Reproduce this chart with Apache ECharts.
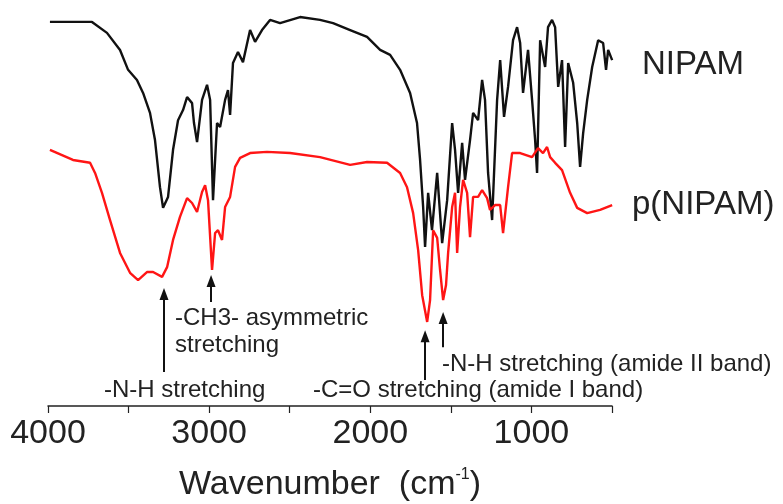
<!DOCTYPE html>
<html>
<head>
<meta charset="utf-8">
<script src="https://cdn.jsdelivr.net/npm/echarts@6/dist/echarts.min.js"></script>
<style>
  html, body { margin: 0; padding: 0; background: #fff; }
  #chart { width: 783px; height: 504px; }
</style>
</head>
<body>
<div id="chart"></div>
<script>
// FTIR spectra, transmittance in arbitrary units (curves offset)
var nipamWn = [3988, 3727, 3634, 3553, 3503, 3448, 3410, 3367, 3336, 3305, 3286, 3255, 3224, 3193, 3162, 3137, 3106, 3094, 3075, 3044,
    3013, 2994, 2976, 2951, 2932, 2901, 2883, 2870, 2852, 2821, 2790, 2746, 2715, 2672, 2622, 2560, 2436, 2312, 2231, 2125,
    2020, 1939, 1877, 1815, 1753, 1710, 1691, 1672, 1660, 1641, 1617, 1585, 1554, 1523, 1492, 1474, 1455, 1430, 1412, 1381,
    1362, 1331, 1306, 1288, 1269, 1244, 1213, 1194, 1170, 1145, 1114, 1089, 1070, 1052, 1021, 996, 977, 965, 946, 915,
    897, 872, 853, 834, 810, 791, 772, 741, 716, 698, 679, 654, 623, 586, 555, 537, 524, 499]
var nipamT = [94.6, 94.6, 91.9, 87.7, 82.8, 80.3, 77.1, 72.2, 65.5, 53.9, 48.8, 51.5, 63.1, 70.4, 72.9, 76.1, 74.6, 69.7, 65.0, 75.4,
    79.1, 75.4, 50.7, 69.7, 68.7, 75.4, 77.8, 71.7, 84.5, 87.2, 84.7, 92.6, 89.7, 92.6, 95.1, 94.3, 95.8, 95.1, 94.3, 92.6,
    90.9, 87.7, 86.5, 82.8, 77.1, 69.7, 60.6, 49.0, 39.2, 52.5, 43.3, 57.4, 40.1, 50.7, 69.7, 63.1, 52.5, 64.8, 55.7, 65.5,
    72.2, 70.4, 80.3, 75.4, 57.4, 45.8, 75.4, 85.2, 71.2, 78.6, 90.1, 93.3, 89.4, 77.1, 87.7, 75.4, 65.5, 57.4, 90.1, 83.5,
    93.3, 95.1, 93.3, 78.6, 85.2, 63.8, 84.5, 79.6, 69.7, 58.9, 67.2, 75.4, 83.5, 90.1, 89.4, 82.8, 87.7, 85.2]

var pnipamWn = [3988, 3845, 3739, 3708, 3665, 3615, 3553, 3491, 3441, 3386, 3348, 3292, 3261, 3224, 3181, 3137, 3106, 3075, 3044, 3025,
    3007, 2982, 2963, 2945, 2920, 2901, 2870, 2839, 2808, 2746, 2641, 2498, 2312, 2125, 2020, 1896, 1815, 1772, 1734, 1703,
    1678, 1647, 1629, 1610, 1585, 1567, 1548, 1530, 1517, 1492, 1474, 1461, 1443, 1424, 1399, 1381, 1362, 1331, 1306, 1275,
    1257, 1226, 1194, 1176, 1145, 1120, 1070, 996, 959, 928, 903, 884, 853, 810, 760, 716, 654, 574, 499]
var pnipamT = [63.1, 60.6, 59.9, 57.4, 52.5, 45.8, 37.7, 32.8, 31.0, 33.0, 33.0, 31.8, 34.2, 40.9, 46.6, 51.2, 50.0, 47.8, 52.7, 54.4,
    50.7, 33.5, 42.6, 43.3, 40.9, 49.0, 51.5, 58.9, 61.1, 62.3, 62.6, 62.3, 61.3, 59.4, 60.1, 59.9, 57.4, 53.9, 47.5, 38.4,
    27.3, 20.7, 26.1, 43.3, 41.4, 33.5, 26.1, 29.8, 37.7, 49.0, 52.5, 37.7, 49.0, 55.7, 52.5, 41.6, 51.5, 51.5, 53.2, 51.2,
    48.3, 49.5, 49.5, 42.6, 53.9, 62.3, 62.3, 61.3, 63.5, 62.3, 63.8, 61.3, 59.9, 58.1, 52.5, 48.8, 47.5, 48.3, 49.5]

// band arrows: wavenumber, tail value, tip value
var arrowWn = [3280, 2988, 1660, 1548]
var arrowFrom = [8.4, 25.6, 6.4, 14.5]
var arrowTo = [27.6, 30.8, 17.2, 21.7]

var zip = function (xs, ys) {
    var out = []
    for (var i = 0; i < xs.length; i++) {
        out.push([xs[i], ys[i]])
    }
    return out
}

var arrows = []
for (var i = 0; i < arrowWn.length; i++) {
    arrows.push([{coord: [arrowWn[i], arrowFrom[i]]}, {coord: [arrowWn[i], arrowTo[i]]}])
}

var txt = function (x, y, s, size) {
    return {
        type: 'text', x: x, y: y, silent: true,
        style: {
            text: s, fill: '#222', verticalAlign: 'middle',
            font: size + 'px "Liberation Sans", Arial, sans-serif'
        }
    }
}

var chart = echarts.init(document.getElementById('chart'))
var option = {
    animation: false,
    backgroundColor: '#fff',
    grid: { left: 48, right: 171, top: 0, bottom: 98, containLabel: false, outerBoundsMode: 'none' },
    xAxis: {
        type: 'value',
        inverse: true,
        min: 500,
        max: 4000,
        interval: 500,
        name: '{a|Wavenumber  (cm}{s|-1}{a|)}',
        nameLocation: 'middle',
        nameGap: 61,
        nameTextStyle: {
            rich: {
                a: { fontSize: 34, color: '#222', fontFamily: 'Liberation Sans' },
                s: { fontSize: 16, color: '#222', fontFamily: 'Liberation Sans', padding: [0, 0, 20, 0] }
            }
        },
        axisLine: { onZero: false, lineStyle: { color: '#222', width: 1.5 } },
        axisTick: { inside: false, length: 7, lineStyle: { color: '#222', width: 1.2 } },
        axisLabel: {
            margin: 11,
            fontSize: 34,
            color: '#222',
            fontFamily: 'Liberation Sans',
            formatter: function (v) { return v % 1000 === 0 ? String(v) : '' }
        },
        splitLine: { show: false }
    },
    yAxis: { type: 'value', min: 0, max: 100, show: false },
    series: [
        {
            name: 'NIPAM',
            type: 'line',
            showSymbol: false,
            data: zip(nipamWn, nipamT),
            lineStyle: { color: '#111', width: 2.4 },
            markLine: {
                silent: true,
                symbol: ['none', 'triangle'],
                symbolSize: [9, 12],
                label: { show: false },
                lineStyle: { color: '#111', width: 2, type: 'solid' },
                data: arrows
            }
        },
        {
            name: 'p(NIPAM)',
            type: 'line',
            showSymbol: false,
            data: zip(pnipamWn, pnipamT),
            lineStyle: { color: '#ff1515', width: 2.4 }
        }
    ],
    graphic: [
        txt(642, 65, 'NIPAM', 33),
        txt(632, 205, 'p(NIPAM)', 33),
        txt(175, 318, '-CH3- asymmetric', 24),
        txt(175, 345, 'stretching', 24),
        txt(104, 390, '-N-H stretching', 24),
        txt(313, 390, '-C=O stretching (amide I band)', 24),
        txt(442, 364, '-N-H stretching (amide II band)', 24)
    ]
}
chart.setOption(option)
</script>
</body>
</html>
